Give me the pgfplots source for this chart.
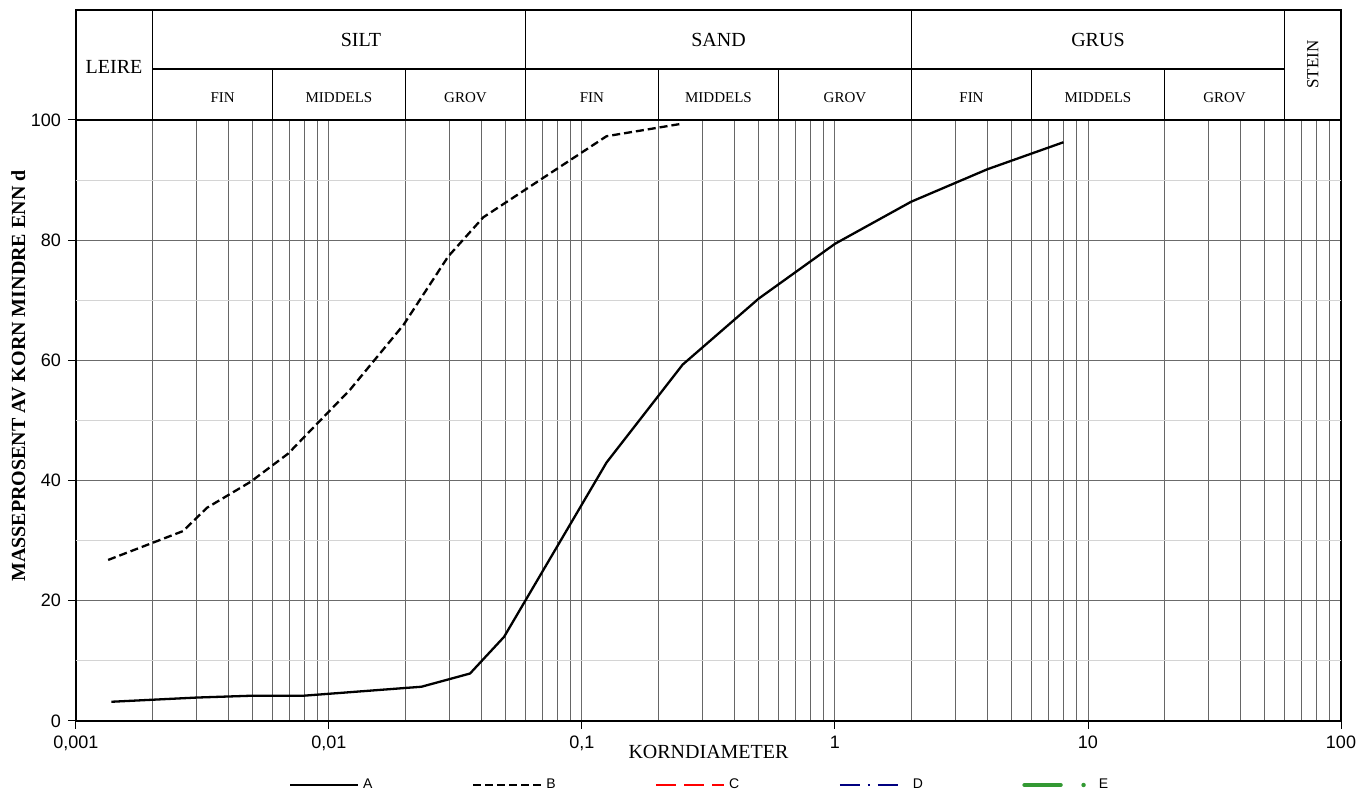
\documentclass[border=0pt]{standalone}
\usepackage{fontspec}
\setmainfont{Liberation Serif}
\newfontfamily\arial{Liberation Sans}
\usepackage{pgfplots}
\pgfplotsset{compat=1.18}

\definecolor{navyd}{RGB}{0,0,128}
\definecolor{egreen}{RGB}{51,153,51}

\begin{document}
\begin{tikzpicture}
\begin{axis}[
    name=ax,
    scale only axis,
    width=632.5pt, height=300.5pt,
    xmode=log,
    xmin=0.001, xmax=100, ymin=0, ymax=100,
    xtick={0.001,0.01,0.1,1,10,100},
    xticklabels={{0,001},{0,01},{0,1},1,10,100},
    minor xtick={0.002,0.003,0.004,0.005,0.006,0.007,0.008,0.009,
                 0.02,0.03,0.04,0.05,0.06,0.07,0.08,0.09,
                 0.2,0.3,0.4,0.5,0.6,0.7,0.8,0.9,
                 2,3,4,5,6,7,8,9,
                 20,30,40,50,60,70,80,90},
    ytick={0,20,40,60,80,100},
    yticklabels={0,20,40,60,80,100},
    extra y ticks={10,30,50,70,90},
    extra y tick labels={},
    extra y tick style={grid=major, major grid style={draw=black!17, line width=0.5pt}, major tick length=0pt},
    grid=both,
    major grid style={draw=black!58, line width=0.5pt},
    minor grid style={draw=black!60, line width=0.55pt},
    tick align=outside, tick pos=left,
    major tick length=4pt, minor tick length=0pt,
    tick style={black, line width=0.5pt},
    axis line style={black, line width=0.7pt},
    x tick label style={font=\arial\fontsize{9}{10}\selectfont},
    y tick label style={font=\arial\fontsize{9}{10}\selectfont},
    xlabel={KORNDIAMETER},
    xlabel style={at={(axis description cs:0.5,0)}, anchor=center, yshift=-15.5pt, font=\fontsize{10}{12}\selectfont},
    ylabel={MASSEPROSENT AV KORN MINDRE ENN d},
    ylabel style={at={(axis description cs:-0.0455,0.574)}, anchor=center, font=\bfseries\fontsize{10}{12}\selectfont},
    clip=false,
    legend columns=5,
    legend style={at={(0.5,0)}, anchor=center, yshift=-32pt, xshift=-4pt,
        draw=none, fill=none, font=\arial\fontsize{7}{8}\selectfont,
        /tikz/every even column/.append style={column sep=47.75pt}},
    legend image code/.code={\draw[#1] (0pt,0pt) -- (34pt,0pt);},
]

\addplot[black, line width=1.15pt] coordinates {
    (0.00138,3.2) (0.0030,3.9) (0.0049,4.2) (0.0079,4.2) (0.0232,5.7)
    (0.0361,7.9) (0.0492,14.0) (0.125,43.0) (0.25,59.3) (0.5,70.3)
    (1.0,79.4) (2.0,86.4) (4.0,91.8) (8.0,96.3)
};
\addlegendentry{A}

\addplot[black, line width=1.15pt, dash pattern=on 4pt off 2pt] coordinates {
    (0.00134,26.8) (0.00265,31.6) (0.0033,35.5) (0.0049,39.8) (0.0069,44.5)
    (0.0121,55.1) (0.0197,65.9) (0.0296,77.3) (0.0407,83.8) (0.125,97.3)
    (0.25,99.4)
};
\addlegendentry{B}

\addlegendimage{red, line width=1pt, dash pattern=on 10pt off 4pt}
\addlegendentry{C}
\addlegendimage{navyd, line width=1pt, dash pattern=on 10pt off 4pt on 1pt off 4pt on 10pt off 20pt}
\addlegendentry{D}
\addlegendimage{egreen, line width=2.2pt, line cap=round, dash pattern=on 18pt off 11.5pt on 0pt off 30pt}
\addlegendentry{E}

% classification header above the plot
\draw[black, line width=0.6pt] (0.001,100) rectangle (100,118.3);
\draw[black, line width=0.6pt] (0.002,100) -- (0.002,118.3);
\draw[black, line width=0.6pt] (0.06,100) -- (0.06,118.3);
\draw[black, line width=0.6pt] (2,100) -- (2,118.3);
\draw[black, line width=0.6pt] (60,100) -- (60,118.3);
\draw[black, line width=0.6pt] (0.002,108.5) -- (60,108.5);
\draw[black, line width=0.6pt] (0.006,100) -- (0.006,108.5);
\draw[black, line width=0.6pt] (0.02,100) -- (0.02,108.5);
\draw[black, line width=0.6pt] (0.2,100) -- (0.2,108.5);
\draw[black, line width=0.6pt] (0.6,100) -- (0.6,108.5);
\draw[black, line width=0.6pt] (6,100) -- (6,108.5);
\draw[black, line width=0.6pt] (20,100) -- (20,108.5);

\node[font=\fontsize{10}{12}\selectfont] at (0.001414,108.8) {LEIRE};
\node[font=\fontsize{10}{12}\selectfont] at (0.01338,113.3) {SILT};
\node[font=\fontsize{10}{12}\selectfont] at (0.3464,113.3) {SAND};
\node[font=\fontsize{10}{12}\selectfont] at (10.95,113.3) {GRUS};
\node[font=\fontsize{8.5}{10}\selectfont, rotate=90] at (77.46,109.2) {STEIN};

\node[font=\fontsize{7.5}{9}\selectfont] at (0.0038,103.8) {FIN};
\node[font=\fontsize{7.5}{9}\selectfont] at (0.01095,103.8) {MIDDELS};
\node[font=\fontsize{7.5}{9}\selectfont] at (0.03464,103.8) {GROV};
\node[font=\fontsize{7.5}{9}\selectfont] at (0.1095,103.8) {FIN};
\node[font=\fontsize{7.5}{9}\selectfont] at (0.3464,103.8) {MIDDELS};
\node[font=\fontsize{7.5}{9}\selectfont] at (1.095,103.8) {GROV};
\node[font=\fontsize{7.5}{9}\selectfont] at (3.464,103.8) {FIN};
\node[font=\fontsize{7.5}{9}\selectfont] at (10.95,103.8) {MIDDELS};
\node[font=\fontsize{7.5}{9}\selectfont] at (34.64,103.8) {GROV};
\end{axis}
\pgfresetboundingbox
\path[use as bounding box] ([shift={(-38pt,-35.5pt)}]ax.south west) rectangle ([shift={(9.5pt,60pt)}]ax.north east);
\end{tikzpicture}
\end{document}
